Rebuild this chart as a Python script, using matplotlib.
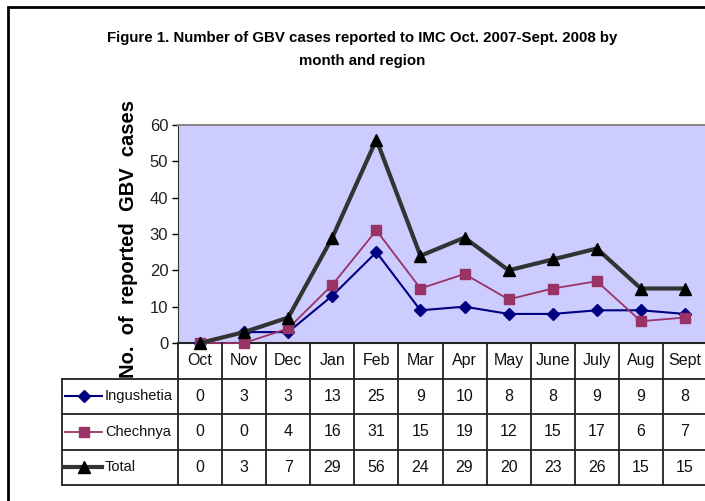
import matplotlib.pyplot as plt
from matplotlib.patches import Rectangle

plt.rcParams['font.family'] = ['Liberation Sans', 'DejaVu Sans']

months = ["Oct", "Nov", "Dec", "Jan", "Feb", "Mar", "Apr", "May", "June", "July", "Aug", "Sept"]
ingushetia = [0, 3, 3, 13, 25, 9, 10, 8, 8, 9, 9, 8]
chechnya = [0, 0, 4, 16, 31, 15, 19, 12, 15, 17, 6, 7]
total = [0, 3, 7, 29, 56, 24, 29, 20, 23, 26, 15, 15]
series_names = ["Ingushetia", "Chechnya", "Total"]

W, H = 705, 501
fig = plt.figure(figsize=(W / 100, H / 100), dpi=100)

# pixel helpers
def fx(px):
    return px / W

def fy(py):
    return 1 - py / H

left, right, top, bottom = 178, 707, 125, 343
ax = fig.add_axes([fx(left), fy(bottom), fx(right - left), fy(top) - fy(bottom)])
ax.set_facecolor("#ccccff")

x = list(range(len(months)))
styles = [
    dict(color="#000080", marker="D", ms=6.5, lw=1.5, mfc="#000080", mec="#000080"),
    dict(color="#993366", marker="s", ms=7, lw=1.3, mfc="#993366", mec="#993366"),
    dict(color="#333333", marker="^", ms=8, lw=3, mfc="black", mec="black"),
]
for vals, st in zip([ingushetia, chechnya, total], styles):
    ax.plot(x, vals, clip_on=False, zorder=3, **st)

ax.set_xlim(-0.5, len(months) - 0.5)
ax.set_ylim(0, 60)
ax.set_yticks(range(0, 61, 10))
ax.set_xticks([])
ax.tick_params(axis="y", labelsize=12, length=4, width=1, pad=3, colors="black")
for lab in ax.get_yticklabels():
    lab.set_color("#222222")
ax.spines["top"].set_color("#888888")
ax.spines["top"].set_linewidth(1.5)
ax.spines["right"].set_visible(False)
ax.spines["left"].set_color("#333333")
ax.spines["bottom"].set_color("#222222")
ax.spines["bottom"].set_linewidth(1.5)

# data table below the plot
tleft, tbottom = 62, 485
colw = (right - left) / len(months)
legw = (left - tleft) / colw
tax = fig.add_axes([fx(tleft), fy(tbottom), fx(right - tleft), fy(bottom) - fy(tbottom)])
tax.set_xlim(-0.5 - legw, len(months) - 0.5)
tax.set_ylim(4, 0)
tax.axis("off")

lc = "#222222"
x0 = -0.5 - legw
for r in [1, 2, 3, 4]:
    tax.plot([x0, len(months) - 0.5], [r, r], color=lc, lw=1.3, clip_on=False)
for i in range(len(months) + 1):
    tax.plot([i - 0.5, i - 0.5], [0, 4], color=lc, lw=1.3, clip_on=False)
tax.plot([x0, x0], [1, 4], color=lc, lw=1.3, clip_on=False)

for i, m in enumerate(months):
    tax.text(i, 0.5, m, ha="center", va="center", fontsize=11.5, color="#111111")
for r, (vals, name, st) in enumerate(zip([ingushetia, chechnya, total], series_names, styles)):
    yy = r + 1.5
    for i, v in enumerate(vals):
        tax.text(i, yy, str(v), ha="center", va="center", fontsize=11.5, color="#111111")
    line_st = {k: v for k, v in st.items() if k in ("color", "lw")}
    mark_st = {k: v for k, v in st.items() if k not in ("lw",)}
    tax.plot([x0 + 0.07, x0 + 0.91], [yy, yy], clip_on=False, **line_st)
    tax.plot([x0 + 0.49], [yy], clip_on=False, ls="none", **mark_st)
    tax.text(x0 + 0.97, yy, name, ha="left", va="center", fontsize=10.5, color="#111111")

# y label, drawn with wider word gaps
ylab = "  ".join("No. of reported GBV cases".split())
fig.text(fx(129), fy(239), ylab, rotation=90, ha="center", va="center",
         fontsize=14.5, fontweight="bold")

fig.text(fx(362), fy(38), "Figure 1. Number of GBV cases reported to IMC Oct. 2007-Sept. 2008 by",
         ha="center", va="center", fontsize=10.8, fontweight="bold")
fig.text(fx(362), fy(61), "month and region", ha="center", va="center",
         fontsize=10.8, fontweight="bold")

# outer frame (right and bottom edges fall outside the image)
fig.patches.append(Rectangle((fx(7.5), -0.2), 1.2, fy(7) + 0.2, transform=fig.transFigure,
                             fill=False, edgecolor="black", lw=2, clip_on=False))

fig.savefig("out.png", dpi=100)
